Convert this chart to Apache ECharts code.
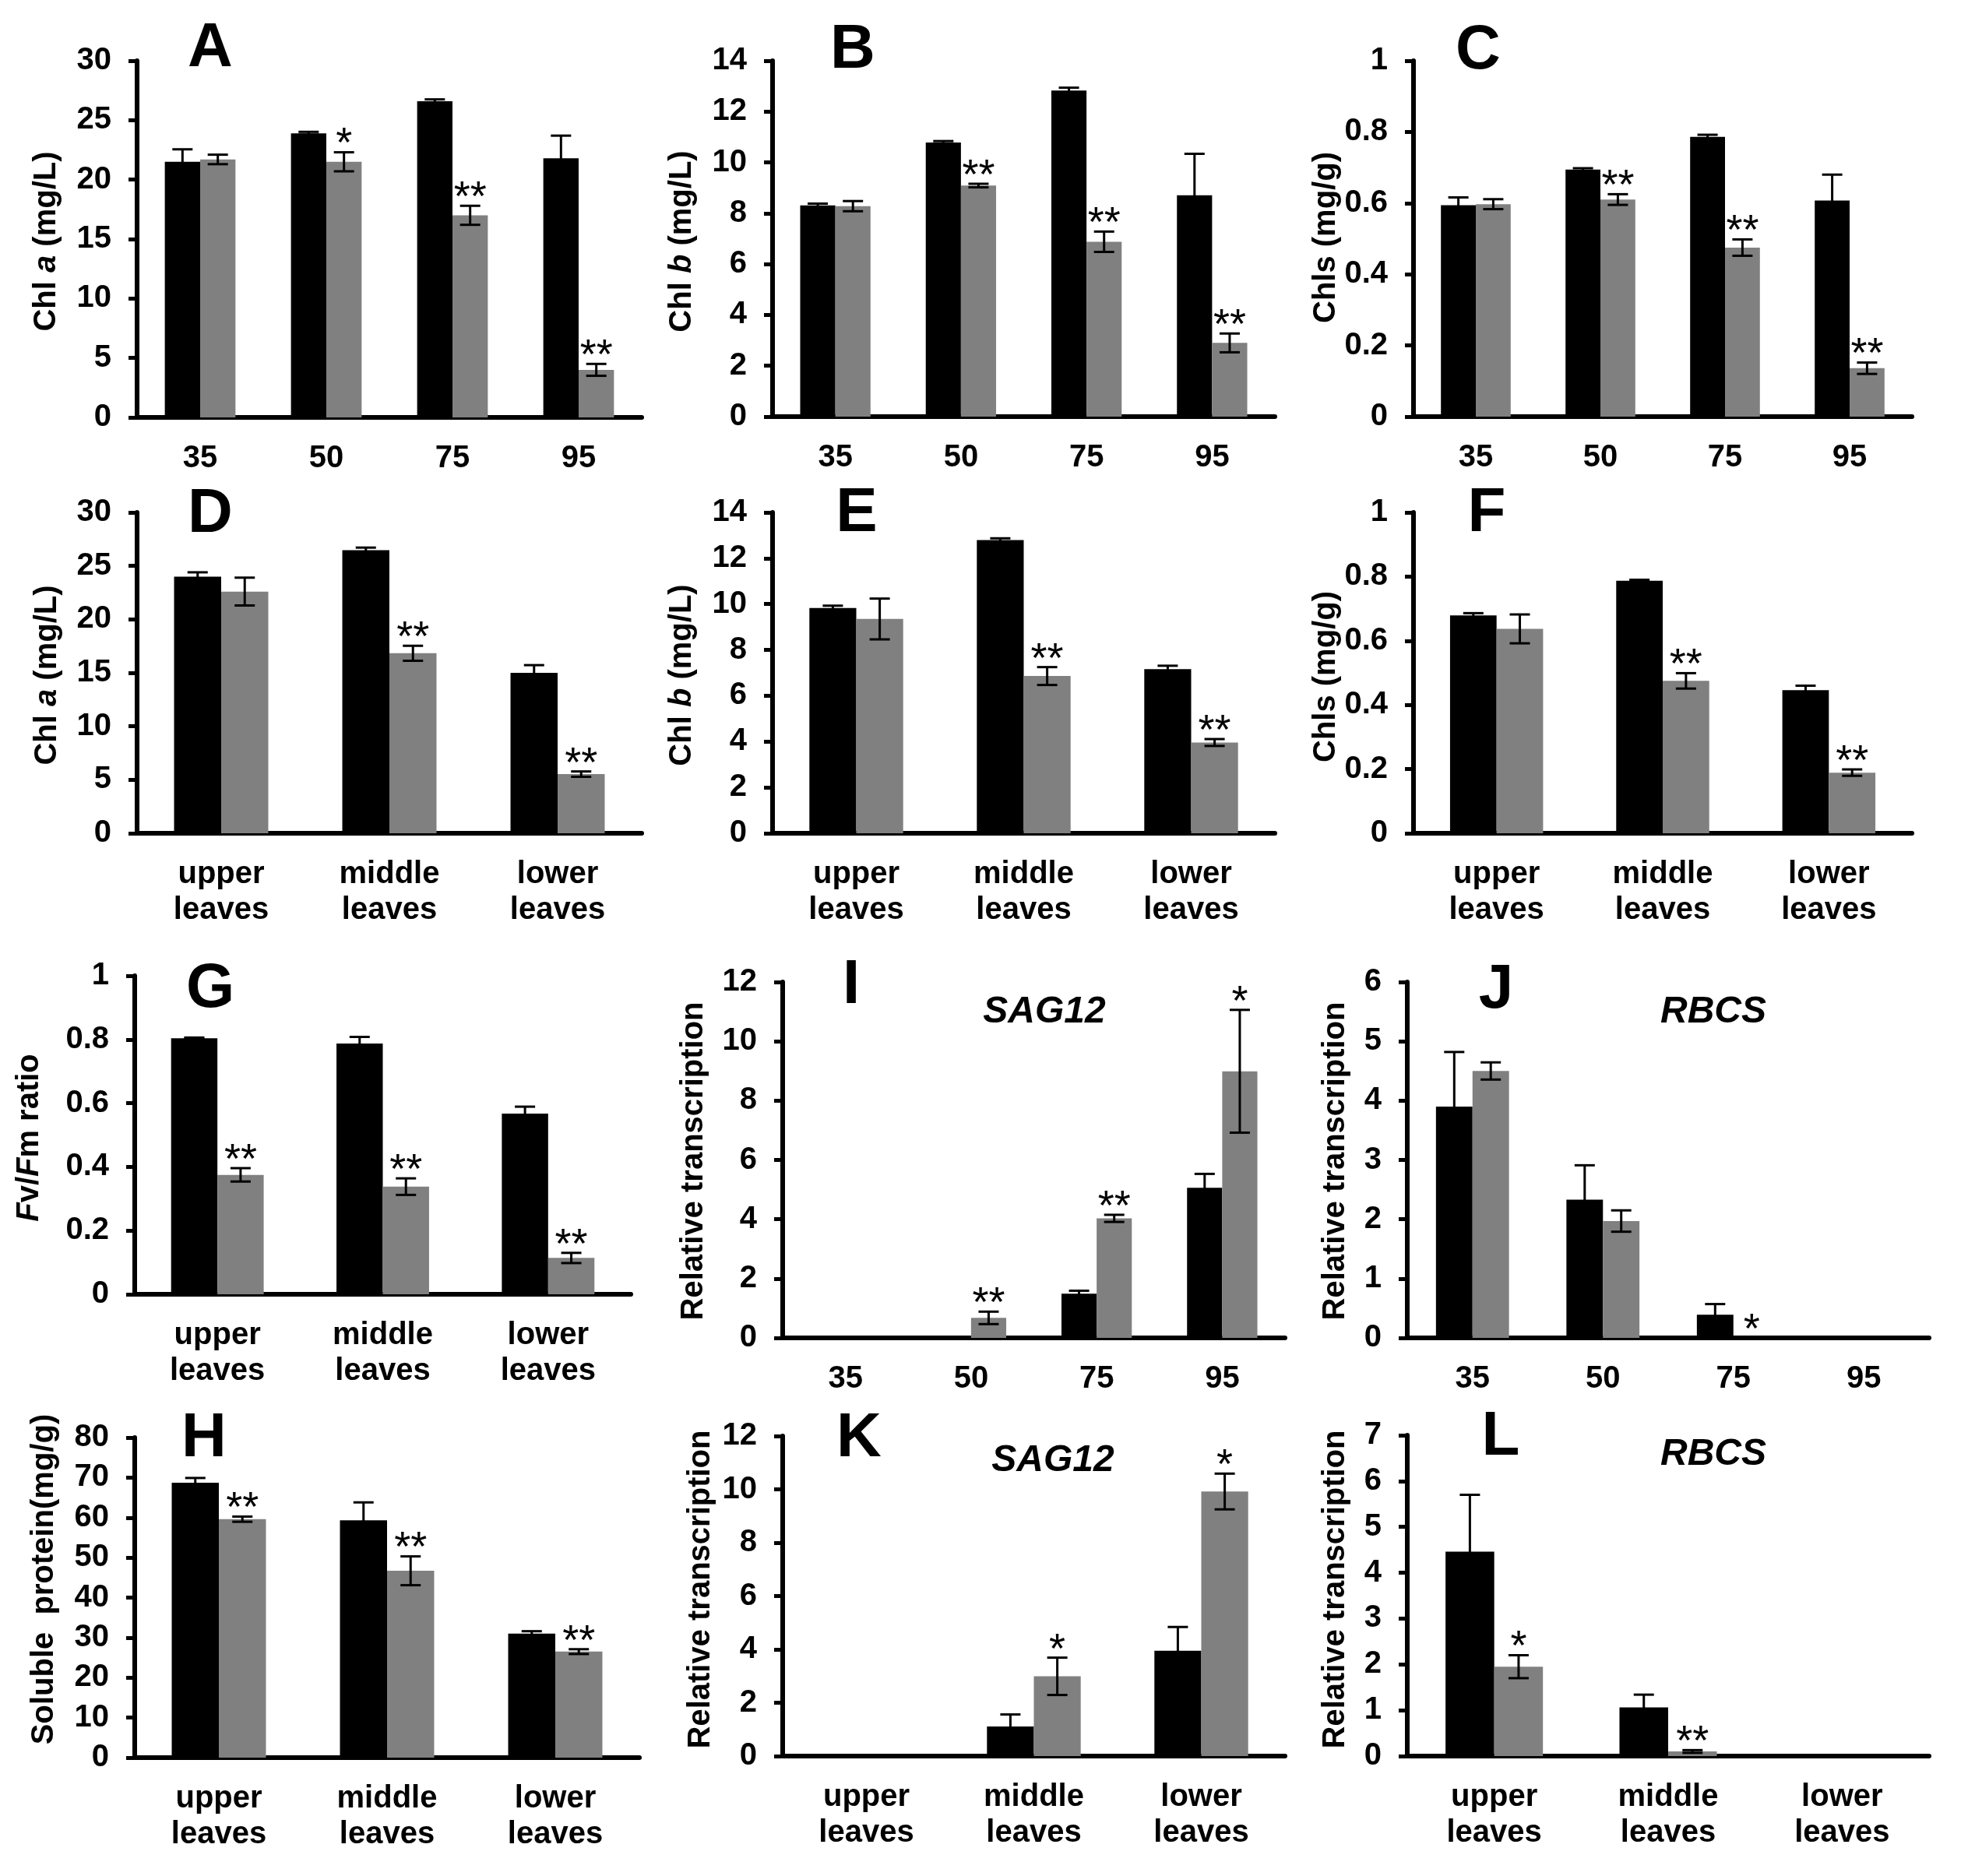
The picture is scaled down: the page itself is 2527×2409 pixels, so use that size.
<!DOCTYPE html>
<html><head><meta charset="utf-8">
<script src="https://cdn.jsdelivr.net/npm/echarts@6/dist/echarts.min.js"></script>
<style>html,body{margin:0;padding:0;background:#fff}#c{width:2527px;height:2409px}</style>
</head><body><div id="c"></div>
<script>
// ---------- categories ----------
const timeCats = ['35', '50', '75', '95'];
const leafCats = ['upper\nleaves', 'middle\nleaves', 'lower\nleaves'];

// ---------- A: Chl a vs time ----------
const aBlack = [21.5, 23.9, 26.6, 21.8];
const aBlackErr = [1.05, 0.12, 0.15, 1.9];
const aGray = [21.7, 21.5, 17.0, 4.0];
const aGrayErr = [0.4, 0.8, 0.8, 0.5];
const aSig = ['', '*', '**', '**'];
// ---------- B: Chl b vs time ----------
const bBlack = [8.31, 10.78, 12.83, 8.71];
const bBlackErr = [0.07, 0.06, 0.11, 1.63];
const bGray = [8.28, 9.09, 6.88, 2.9];
const bGrayErr = [0.2, 0.07, 0.4, 0.37];
const bSig = ['', '**', '**', '**'];
// ---------- C: Chls vs time ----------
const cBlack = [0.594, 0.694, 0.786, 0.607];
const cBlackErr = [0.022, 0.004, 0.006, 0.073];
const cGray = [0.597, 0.61, 0.475, 0.136];
const cGrayErr = [0.014, 0.015, 0.023, 0.016];
const cSig = ['', '**', '**', '**'];
// ---------- D: Chl a vs leaf position ----------
const dBlack = [24.0, 26.46, 15.0];
const dBlackErr = [0.4, 0.25, 0.72];
const dGray = [22.6, 16.83, 5.53];
const dGrayErr = [1.3, 0.7, 0.25];
const dSig = ['', '**', '**'];
// ---------- E: Chl b vs leaf position ----------
const eBlack = [9.83, 12.79, 7.16];
const eBlackErr = [0.1, 0.08, 0.15];
const eGray = [9.35, 6.86, 3.96];
const eGrayErr = [0.89, 0.39, 0.15];
const eSig = ['', '**', '**'];
// ---------- F: Chls vs leaf position ----------
const fBlack = [0.679, 0.787, 0.446];
const fBlackErr = [0.007, 0.003, 0.014];
const fGray = [0.637, 0.475, 0.189];
const fGrayErr = [0.045, 0.024, 0.01];
const fSig = ['', '**', '**'];
// ---------- G: Fv/Fm ----------
const gBlack = [0.804, 0.787, 0.567];
const gBlackErr = [0.002, 0.021, 0.022];
const gGray = [0.375, 0.338, 0.114];
const gGrayErr = [0.021, 0.026, 0.016];
const gSig = ['**', '**', '**'];
// ---------- H: soluble protein ----------
const hBlack = [68.7, 59.3, 31.0];
const hBlackErr = [1.2, 4.5, 0.6];
const hGray = [59.6, 46.7, 26.5];
const hGrayErr = [0.65, 3.6, 0.6];
const hSig = ['**', '**', '**'];
// ---------- I: SAG12 vs time ----------
const iBlack = [0, 0, 1.49, 5.06];
const iBlackErr = [0, 0, 0.1, 0.47];
const iGray = [0, 0.675, 4.03, 8.99];
const iGrayErr = [0, 0.21, 0.12, 2.07];
const iSig = ['', '**', '**', '*'];
// ---------- J: RBCS vs time ----------
const jBlack = [3.9, 2.33, 0.39, 0];
const jBlackErr = [0.92, 0.58, 0.18, 0];
const jGray = [4.5, 1.97, 0, 0];
const jGrayErr = [0.145, 0.18, 0, 0];
const jSig = ['', '', '*', ''];
// ---------- K: SAG12 vs leaf position ----------
const kBlack = [0, 1.11, 3.95];
const kBlackErr = [0, 0.45, 0.89];
const kGray = [0, 2.99, 9.92];
const kGrayErr = [0, 0.7, 0.67];
const kSig = ['', '*', '*'];
// ---------- L: RBCS vs leaf position ----------
const lBlack = [4.46, 1.06, 0];
const lBlackErr = [1.24, 0.28, 0];
const lGray = [1.95, 0.10, 0];
const lGrayErr = [0.25, 0.03, 0];
const lSig = ['*', '**', ''];

// ---------- panel definitions ----------
const panels = [
  {id:'A', cats:timeCats, black:aBlack, blackErr:aBlackErr, gray:aGray, grayErr:aGrayErr, sig:aSig, max:30, step:5, title:'Chl {i|a} (mg/L)'},
  {id:'B', cats:timeCats, black:bBlack, blackErr:bBlackErr, gray:bGray, grayErr:bGrayErr, sig:bSig, max:14, step:2, title:'Chl {i|b} (mg/L)'},
  {id:'C', cats:timeCats, black:cBlack, blackErr:cBlackErr, gray:cGray, grayErr:cGrayErr, sig:cSig, max:1, step:0.2, title:'Chls (mg/g)'},
  {id:'D', cats:leafCats, black:dBlack, blackErr:dBlackErr, gray:dGray, grayErr:dGrayErr, sig:dSig, max:30, step:5, title:'Chl {i|a} (mg/L)'},
  {id:'E', cats:leafCats, black:eBlack, blackErr:eBlackErr, gray:eGray, grayErr:eGrayErr, sig:eSig, max:14, step:2, title:'Chl {i|b} (mg/L)'},
  {id:'F', cats:leafCats, black:fBlack, blackErr:fBlackErr, gray:fGray, grayErr:fGrayErr, sig:fSig, max:1, step:0.2, title:'Chls (mg/g)'},
  {id:'G', cats:leafCats, black:gBlack, blackErr:gBlackErr, gray:gGray, grayErr:gGrayErr, sig:gSig, max:1, step:0.2, title:'{i|F}v/{i|F}m ratio'},
  {id:'I', cats:timeCats, black:iBlack, blackErr:iBlackErr, gray:iGray, grayErr:iGrayErr, sig:iSig, max:12, step:2, title:'Relative transcription', gene:'SAG12'},
  {id:'J', cats:timeCats, black:jBlack, blackErr:jBlackErr, gray:jGray, grayErr:jGrayErr, sig:jSig, max:6, step:1, title:'Relative transcription', gene:'RBCS'},
  {id:'H', cats:leafCats, black:hBlack, blackErr:hBlackErr, gray:hGray, grayErr:hGrayErr, sig:hSig, max:80, step:10, title:'Soluble  protein(mg/g)'},
  {id:'K', cats:leafCats, black:kBlack, blackErr:kBlackErr, gray:kGray, grayErr:kGrayErr, sig:kSig, max:12, step:2, title:'Relative transcription', gene:'SAG12'},
  {id:'L', cats:leafCats, black:lBlack, blackErr:lBlackErr, gray:lGray, grayErr:lGrayErr, sig:lSig, max:7, step:1, title:'Relative transcription', gene:'RBCS'}
];

// ---------- layout (pixels) ----------
const layout = {
  A:{l:176, t:78,  r:824,  b:536,  letter:[270,63],   title:[60,310]},
  B:{l:992, t:78,  r:1637, b:535,  letter:[1095,65],  title:[876,310]},
  C:{l:1815,t:78,  r:2455, b:535,  letter:[1898,66],  title:[1703,305]},
  D:{l:176, t:658, r:824,  b:1070, letter:[270,661],  title:[61,867]},
  E:{l:992, t:658, r:1637, b:1070, letter:[1100,660], title:[876,867]},
  F:{l:1815,t:658, r:2455, b:1070, letter:[1909,660], title:[1703,869]},
  G:{l:173, t:1253,r:810,  b:1662, letter:[270,1271], title:[38,1461]},
  I:{l:1005,t:1261,r:1650, b:1718, letter:[1093,1266],title:[891,1491], gene:[1341,1300]},
  J:{l:1807,t:1261,r:2477, b:1718, letter:[1921,1272],title:[1715,1491], gene:[2200,1300]},
  H:{l:173, t:1846,r:821,  b:2257, letter:[262,1848], title:[57,2028]},
  K:{l:1005,t:1844,r:1650, b:2255, letter:[1103,1848],title:[900,2041], gene:[1352,1876]},
  L:{l:1807,t:1843,r:2477, b:2255, letter:[1927,1846],title:[1715,2041], gene:[2200,1868]}
};

const FONT = '"Liberation Sans", Arial, Helvetica, sans-serif';

function makeErr(side, sig) {
  return function (params, api) {
    const j = api.value(0), v = api.value(1), e = api.value(2);
    const bw = api.size([1, 0])[0];
    const x = api.coord([j, v])[0] + side * 0.14 * bw;
    const yTop = api.coord([j, v + e])[1];
    const yBot = api.coord([j, Math.max(0, v - e)])[1];
    const hw = 13;
    const ls = {stroke:'#000', lineWidth:3};
    const children = [];
    if (e > 0) {
      children.push({type:'line', shape:{x1:x, y1:yTop, x2:x, y2:yBot}, style:ls});
      children.push({type:'line', shape:{x1:x-hw, y1:yTop, x2:x+hw, y2:yTop}, style:ls});
      children.push({type:'line', shape:{x1:x-hw, y1:yBot, x2:x+hw, y2:yBot}, style:ls});
    }
    const s = sig ? sig[params.dataIndex] : '';
    if (s) {
      children.push({type:'text', style:{text:s, x:x, y:yTop - 9, align:'center', verticalAlign:'middle',
        fontSize:54, fontFamily:FONT, fontWeight:'normal', fill:'#000'}});
    }
    return {type:'group', children:children};
  };
}

const grids = [], xAxes = [], yAxes = [], series = [], graphics = [];
panels.forEach(function (p, i) {
  const L = layout[p.id];
  grids.push({left:L.l, top:L.t, width:L.r - L.l, height:L.b - L.t, containLabel:false});
  xAxes.push({type:'category', gridIndex:i, data:p.cats,
    axisLine:{lineStyle:{color:'#000', width:6}},
    axisTick:{length:14, lineStyle:{color:'#000', width:6}},
    axisLabel:{interval:0, margin:30, color:'#000', fontFamily:FONT, fontWeight:'bold', fontSize:40, lineHeight:46}});
  yAxes.push({type:'value', gridIndex:i, min:0, max:p.max, interval:p.step,
    axisLine:{show:true, lineStyle:{color:'#000', width:6}},
    axisTick:{show:true, length:11, lineStyle:{color:'#000', width:5}},
    splitLine:{show:false},
    axisLabel:{margin:33, color:'#000', fontFamily:FONT, fontWeight:'bold', fontSize:40}});
  series.push({type:'bar', xAxisIndex:i, yAxisIndex:i, data:p.black, barWidth:'28%', barGap:'0%',
    itemStyle:{color:'#000'}, silent:true});
  series.push({type:'bar', xAxisIndex:i, yAxisIndex:i, data:p.gray, barWidth:'28%', barGap:'0%',
    itemStyle:{color:'#808080'}, silent:true});
  series.push({type:'custom', xAxisIndex:i, yAxisIndex:i, z:5, silent:true,
    data:p.black.map(function (v, j) { return [j, v, p.blackErr[j]]; }), renderItem:makeErr(-1, null)});
  series.push({type:'custom', xAxisIndex:i, yAxisIndex:i, z:5, silent:true,
    data:p.gray.map(function (v, j) { return [j, v, p.grayErr[j]]; }), renderItem:makeErr(1, p.sig)});
  graphics.push({type:'text', x:L.letter[0], y:L.letter[1], z:10,
    style:{text:p.id, fontSize:80, fontWeight:'bold', fontFamily:FONT, fill:'#000', align:'center', verticalAlign:'middle'}});
  graphics.push({type:'text', x:L.title[0], y:L.title[1], rotation:Math.PI / 2, z:10,
    style:{text:p.title, fontSize:40, fontWeight:'bold', fontFamily:FONT, fill:'#000', align:'center', verticalAlign:'middle',
      rich:{i:{fontSize:40, fontWeight:'bold', fontStyle:'italic', fontFamily:FONT, fill:'#000'}}}});
  if (p.gene) {
    graphics.push({type:'text', x:L.gene[0], y:L.gene[1], z:10,
      style:{text:p.gene, fontSize:48, fontWeight:'bold', fontStyle:'italic', fontFamily:FONT, fill:'#000', align:'center', verticalAlign:'middle'}});
  }
});

const chart = echarts.init(document.getElementById('c'));
chart.setOption({
  animation:false,
  backgroundColor:'#fff',
  grid:grids, xAxis:xAxes, yAxis:yAxes, series:series, graphic:graphics
});
</script>
</body></html>
